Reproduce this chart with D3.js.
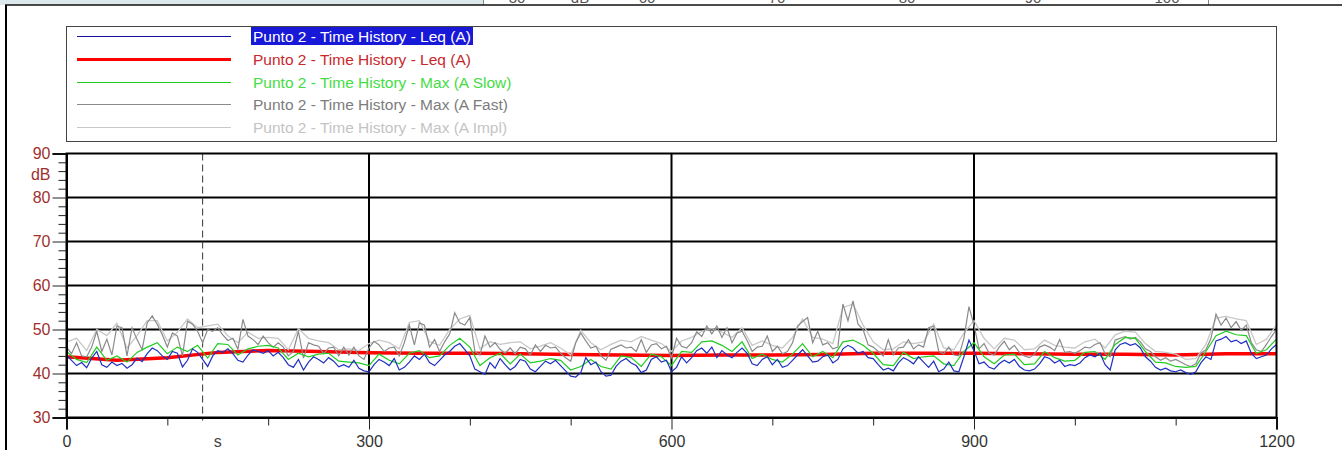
<!DOCTYPE html>
<html>
<head>
<meta charset="utf-8">
<script src="https://cdn.jsdelivr.net/npm/d3@7"></script>
<style>
  body { margin: 0; background: #fff; }
  svg { display: block; font-family: "Liberation Sans", Arial, sans-serif; }
</style>
</head>
<body>
<div id="graph"></div>
<script>
const svgw = 1342
const svgh = 450

// time axis, seconds
const xTicks = [0, 300, 600, 900, 1200]
const xMinor = [100, 200, 400, 500, 700, 800, 1000, 1100]
const yTicks = [30, 40, 50, 60, 70, 80, 90]
const cursorTime = 135

// Leq (A), one value every 5 s
const leqShort = [
  44.2, 43.0, 41.8, 42.5, 41.3, 43.5, 45.0, 42.0, 41.4, 42.6,
  41.8, 42.3, 41.2, 42.0, 43.5, 42.7, 44.5, 45.8, 45.2, 44.0,
  43.2, 45.0, 44.6, 41.5, 43.0, 45.6, 44.8, 43.2, 41.6, 44.0,
  45.2, 44.8, 45.6, 44.5, 43.0, 42.6, 44.2, 45.4, 45.0, 44.6,
  45.2, 44.0, 44.8, 43.6, 42.0, 41.4, 43.2, 40.8, 42.6, 43.8,
  43.2, 42.4, 43.6, 42.8, 41.5, 42.0, 41.4, 43.0, 41.2, 40.6,
  40.4, 42.0, 43.2, 42.6, 41.8, 43.4, 40.8, 41.4, 42.6, 44.0,
  43.2, 44.4, 42.5, 41.8, 43.0, 44.2, 45.0, 46.2, 46.8, 45.4,
  44.0, 41.0, 40.4, 39.8, 42.5, 41.2, 43.4, 42.0, 40.8, 41.6,
  43.2, 42.8, 41.0, 40.4, 41.6, 42.8, 42.2, 43.0, 41.8, 40.6,
  39.4, 39.2, 40.2, 43.6, 42.0, 42.6, 40.4, 39.4, 39.6, 41.6,
  42.8, 43.4, 42.4, 41.8, 40.2, 40.8, 43.2, 43.8, 42.6, 43.0,
  40.4, 41.4, 43.8, 42.4, 43.6, 45.2, 45.8, 44.6, 46.0, 43.6,
  45.2, 44.2, 43.6, 44.8, 45.8, 44.6, 42.2, 41.8, 43.2, 43.8,
  42.0, 43.2, 41.4, 41.8, 43.0, 44.2, 45.4, 44.0, 42.6, 42.8,
  43.8, 44.2, 42.4, 43.2, 45.6, 46.4, 45.8, 44.6, 45.0, 43.6,
  43.4, 42.0, 40.8, 41.2, 40.6, 42.4, 43.6, 43.0, 42.2, 43.8,
  42.6, 41.4, 42.8, 40.4, 41.0, 42.6, 40.6, 40.4, 43.8, 47.6,
  45.2, 42.2, 42.6, 41.4, 41.0, 42.2, 43.0, 42.4, 43.2, 41.6,
  40.8, 40.6, 41.0, 42.2, 43.8, 43.4, 42.4, 43.0, 41.6, 42.0,
  41.8, 42.4, 43.6, 44.2, 43.8, 44.6, 42.0, 40.8, 45.4, 46.6,
  47.0, 46.4, 46.8, 45.8, 43.8, 42.8, 41.4, 40.8, 41.2, 40.6,
  40.4, 40.8, 40.2, 39.8, 40.4, 42.4, 43.8, 43.2, 47.4, 47.8,
  48.4, 47.2, 47.6, 46.8, 47.4, 44.6, 43.4, 43.8, 44.2, 45.6,
  46.6
]

// Max (A Fast), one value every 5 s
const maxFast = [
  46.0, 44.5, 47.0, 44.0, 43.8, 46.0, 49.6, 45.0, 47.8, 44.2,
  50.8, 50.4, 44.0, 50.4, 47.7, 45.4, 51.5, 53.1, 51.2, 48.8,
  46.0, 49.2, 48.5, 44.0, 51.9, 51.2, 49.6, 47.0, 50.0, 49.6,
  50.4, 48.8, 47.5, 48.0, 45.5, 52.3, 48.5, 47.7, 46.6, 48.5,
  47.0, 46.0, 47.0, 46.0, 44.0, 45.0, 49.6, 43.5, 47.0, 46.5,
  46.2, 44.5, 45.8, 46.0, 44.0, 46.0, 44.2, 46.0, 44.0, 43.2,
  45.8, 47.3, 46.5, 45.0, 45.8, 46.0, 44.0, 47.0, 51.0, 46.5,
  51.5, 51.0, 46.0, 47.7, 45.0, 47.2, 49.0, 53.8, 51.5, 51.0,
  52.7, 45.0, 44.2, 48.5, 46.0, 47.0, 45.5, 44.6, 45.8, 44.5,
  46.0, 45.6, 44.2, 46.5, 45.0, 46.4, 45.8, 46.0, 44.6, 43.6,
  42.8, 47.0, 49.2, 47.4, 45.8, 46.2, 44.0, 43.0, 45.5, 46.0,
  46.5, 45.8, 46.0, 45.0, 47.7, 44.8, 46.5, 46.8, 45.6, 46.2,
  43.6, 48.0, 46.2, 45.8, 47.0, 49.5, 48.4, 50.8, 49.0, 50.8,
  48.2, 50.4, 47.0, 49.2, 49.6, 47.5, 45.0, 46.0, 46.2, 48.5,
  45.0, 46.2, 44.5, 45.0, 47.0, 50.8, 51.8, 52.7, 47.0, 49.6,
  46.5, 47.0, 45.6, 46.0, 55.8, 52.0, 56.5, 51.2, 50.0, 46.5,
  46.0, 45.0, 44.0, 47.7, 44.2, 45.8, 46.0, 47.7, 45.6, 46.5,
  46.0, 50.4, 50.8, 45.0, 44.5, 46.0, 44.2, 44.0, 48.0, 55.2,
  51.0, 45.6, 46.8, 44.6, 44.2, 46.0, 47.3, 45.4, 46.4, 44.8,
  44.0, 43.6, 44.4, 46.0, 46.5, 46.0, 45.2, 47.7, 44.8, 45.0,
  44.6, 45.2, 46.0, 45.8, 46.6, 47.0, 44.5, 43.8, 47.6, 48.0,
  48.4, 47.8, 48.2, 47.2, 45.6, 45.0, 43.8, 43.0, 43.6, 42.8,
  43.2, 42.6, 42.0, 41.6, 42.2, 44.6, 45.4, 48.0, 53.5, 51.0,
  52.6, 50.4, 51.8, 49.8, 51.0, 47.0, 45.4, 45.0, 46.6, 48.4,
  50.0
]

// Max (A Slow), one value every 10 s
const maxSlow = [
  45.0, 43.2, 42.5, 46.0, 43.0, 44.0, 42.6, 44.8, 46.0, 47.0,
  44.5, 46.0, 45.0, 46.4, 43.5, 46.8, 46.6, 44.2, 45.6, 46.2,
  46.4, 45.8, 43.2, 44.6, 43.8, 44.4, 44.6, 42.8, 42.6, 42.4,
  41.8, 44.4, 43.0, 42.2, 44.6, 45.2, 43.6, 44.0, 46.4, 48.0,
  46.0, 41.8, 43.6, 44.6, 42.2, 44.4, 42.4, 42.8, 43.4, 43.0,
  40.8, 41.6, 43.2, 41.6, 41.0, 44.0, 43.6, 41.6, 44.4, 43.8,
  41.8, 45.0, 44.8, 47.2, 47.4, 46.4, 45.0, 47.2, 43.4, 44.4,
  43.2, 42.6, 44.4, 46.8, 43.8, 45.0, 43.6, 47.2, 47.6, 46.4,
  44.6, 42.0, 41.8, 44.8, 43.4, 43.8, 44.0, 42.2, 41.8, 45.0,
  47.0, 43.8, 42.2, 44.2, 44.4, 42.0, 42.2, 45.0, 43.6, 42.8,
  43.0, 44.8, 45.0, 43.2, 46.6, 48.2, 48.0, 45.0, 42.6, 42.4,
  41.6, 41.4, 41.6, 45.0, 48.6, 49.6, 48.8, 48.6, 44.6, 45.4,
  47.8
]

// Max (A Impl), one value every 10 s
const maxImpl = [
  47.2, 48.0, 45.2, 50.0, 48.6, 51.4, 45.8, 48.6, 52.0, 52.0,
  47.4, 49.4, 52.4, 50.4, 50.8, 51.2, 48.6, 47.0, 49.4, 48.0,
  48.2, 48.0, 45.4, 50.2, 48.0, 47.4, 47.0, 45.4, 45.6, 45.2,
  46.8, 47.6, 47.0, 45.6, 51.6, 52.0, 47.2, 46.4, 50.0, 52.4,
  53.2, 45.6, 47.2, 46.6, 47.0, 47.2, 45.6, 46.2, 47.0, 45.8,
  44.2, 49.8, 47.0, 45.4, 46.6, 47.6, 47.2, 48.4, 47.6, 46.8,
  45.0, 47.4, 48.2, 49.6, 50.2, 49.4, 48.2, 50.4, 46.4, 47.4,
  46.4, 45.8, 48.2, 52.4, 48.2, 47.8, 46.8, 55.0, 55.8, 51.0,
  47.2, 45.4, 45.6, 47.2, 46.8, 47.2, 51.2, 45.8, 45.4, 49.2,
  52.0, 48.0, 45.6, 48.0, 47.6, 45.4, 45.6, 47.6, 46.4, 46.0,
  45.8, 47.2, 47.8, 45.8, 48.8, 49.6, 49.4, 46.8, 45.0, 44.8,
  44.4, 43.2, 43.4, 46.6, 52.6, 53.0, 52.4, 52.0, 46.6, 47.8,
  51.0
]

// running Leq (A), one value every 50 s
const leqRunning = [
  43.8, 43.0, 43.6, 44.8, 45.2, 45.0, 44.7, 44.6, 44.6, 44.5,
  44.3, 44.2, 44.1, 44.2, 44.2, 44.3, 44.6, 44.6, 44.6, 44.5,
  44.4, 44.4, 44.2, 44.5, 44.5
]

const legendLabels = [
  'Punto 2 - Time History - Leq (A)',
  'Punto 2 - Time History - Leq (A)',
  'Punto 2 - Time History - Max (A Slow)',
  'Punto 2 - Time History - Max (A Fast)',
  'Punto 2 - Time History - Max (A Impl)'
]

const topStripLabels = ['30', 'dB', '60', '70', '80', '90', '100']
const topStripPos = [517, 580, 647, 777, 907, 1033, 1167]

const svg = d3.select('#graph')
    .append('svg')
    .attr('width', svgw)
    .attr('height', svgh)

const plot = {left: 66.5, right: 1276.5, top: 153.5, bottom: 417.5}

const x = d3.scaleLinear().domain([0, 1200]).range([plot.left, plot.right])
const y = d3.scaleLinear().domain([30, 90]).range([plot.bottom, plot.top])

// cut-off strip of the table above the chart
svg.append('rect').attr('x', 0).attr('y', 0).attr('width', 483).attr('height', 5)
    .attr('fill', '#dde8ec')
svg.selectAll('.strip')
    .data(topStripLabels)
    .enter()
    .append('text')
    .attr('x', (d, i) => topStripPos[i])
    .attr('y', 3)
    .attr('text-anchor', 'middle')
    .attr('font-size', 15)
    .attr('fill', '#555')
    .text(d => d)
svg.append('line').attr('x1', 483.5).attr('x2', 483.5).attr('y1', 0).attr('y2', 5).attr('stroke', '#888')
svg.append('line').attr('x1', 1208.5).attr('x2', 1208.5).attr('y1', 0).attr('y2', 5).attr('stroke', '#888')
svg.append('line').attr('x1', 5).attr('x2', svgw).attr('y1', 5).attr('y2', 5)
    .attr('stroke', '#111').attr('stroke-width', 1.5)
svg.append('line').attr('x1', 6).attr('x2', 6).attr('y1', 5).attr('y2', svgh)
    .attr('stroke', '#000').attr('stroke-width', 2)

// legend
const series = [
  {color: '#10109a', width: 1, text: '#ffffff'},
  {color: '#ff0000', width: 3, text: '#c8282d'},
  {color: '#22cc22', width: 1, text: '#44dd44'},
  {color: '#8a8a8a', width: 1, text: '#7c7c7c'},
  {color: '#c8c8c8', width: 1, text: '#c4c4c4'}
]
svg.append('rect')
    .attr('x', 66.5).attr('y', 26.5).attr('width', 1210).attr('height', 115)
    .attr('fill', '#fff').attr('stroke', '#444')

const rowY = d3.scalePoint().domain(d3.range(5)).range([36, 127])
const legend = svg.selectAll('.legend')
    .data(legendLabels)
    .enter()
    .append('g')
    .attr('class', 'legend')
    .attr('transform', (d, i) => `translate(0,${Math.round(rowY(i)) + 0.5})`)
legend.append('line')
    .attr('class', 'legend-line')
    .attr('x1', 77).attr('x2', 231).attr('y1', 0).attr('y2', 0)
    .style('stroke', (d, i) => series[i].color)
    .style('stroke-width', (d, i) => series[i].width)
legend.filter((d, i) => i === 0)
    .append('rect')
    .attr('x', 251).attr('y', -9.5).attr('width', 222).attr('height', 18)
    .attr('fill', '#1818d8')
legend.append('text')
    .attr('x', 253).attr('y', 5)
    .attr('font-size', 15.5)
    .attr('fill', (d, i) => series[i].text)
    .text(d => d)

// grid and frame
const grid = svg.append('g')
grid.selectAll('.hg')
    .data(yTicks.slice(1, -1))
    .enter()
    .append('line')
    .attr('x1', plot.left).attr('x2', plot.right)
    .attr('y1', d => y(d)).attr('y2', d => y(d))
    .attr('stroke', '#000').attr('stroke-width', 2)
grid.selectAll('.vg')
    .data(xTicks.slice(1, -1))
    .enter()
    .append('line')
    .attr('x1', d => x(d)).attr('x2', d => x(d))
    .attr('y1', plot.top).attr('y2', plot.bottom)
    .attr('stroke', '#000').attr('stroke-width', 2)
grid.append('line')
    .attr('x1', x(cursorTime)).attr('x2', x(cursorTime))
    .attr('y1', plot.top).attr('y2', plot.bottom + 3)
    .attr('stroke', '#333').attr('stroke-dasharray', '7,4')

// curves
const line5 = d3.line().x((d, i) => x(i * 5)).y(d => y(d))
const line10 = d3.line().x((d, i) => x(i * 10)).y(d => y(d))
const line50 = d3.line().x((d, i) => x(i * 50)).y(d => y(d))

const curves = svg.append('g')
curves.append('path').attr('d', line50(leqRunning))
    .attr('fill', 'none').attr('stroke', series[1].color).attr('stroke-width', 3.5)
curves.append('path').attr('d', line10(maxImpl))
    .attr('fill', 'none').attr('stroke', series[4].color).attr('stroke-width', 1.3)
curves.append('path').attr('d', line5(maxFast))
    .attr('fill', 'none').attr('stroke', series[3].color).attr('stroke-width', 1.2)
curves.append('path').attr('d', line10(maxSlow))
    .attr('fill', 'none').attr('stroke', series[2].color).attr('stroke-width', 1.2)
curves.append('path').attr('d', line5(leqShort))
    .attr('fill', 'none').attr('stroke', '#2030c0').attr('stroke-width', 1.2)

svg.append('rect')
    .attr('x', plot.left).attr('y', plot.top)
    .attr('width', plot.right - plot.left).attr('height', plot.bottom - plot.top)
    .attr('fill', 'none').attr('stroke', '#000').attr('stroke-width', 2)

// axes
const yAxis = d3.axisLeft(y).tickValues(yTicks).tickSize(14).tickPadding(2)
const yMinorAxis = d3.axisLeft(y)
    .tickValues(d3.range(30, 91, 2).filter(v => v % 10 !== 0))
    .tickSize(8).tickFormat('')
const xAxis = d3.axisBottom(x).tickValues(xTicks).tickSize(12).tickPadding(6)
    .tickFormat(d3.format('d'))
const xMinorAxis = d3.axisBottom(x).tickValues(xMinor).tickSize(8).tickFormat('')

svg.append('g').attr('class', 'axis').attr('transform', `translate(${plot.left},0)`).call(yMinorAxis)
const ya = svg.append('g').attr('class', 'axis').attr('id', 'y-axis')
    .attr('transform', `translate(${plot.left},0)`)
    .call(yAxis)
svg.append('g').attr('class', 'axis').attr('transform', `translate(0,${plot.bottom})`).call(xMinorAxis)
const xa = svg.append('g').attr('class', 'axis').attr('id', 'x-axis')
    .attr('transform', `translate(0,${plot.bottom})`)
    .call(xAxis)

svg.selectAll('.axis .domain').attr('stroke', '#000').attr('stroke-width', 2)
svg.selectAll('.axis .tick line').attr('stroke', '#222')
ya.selectAll('text').attr('font-size', 16).attr('fill', '#a0302e')
    .attr('font-family', '"Liberation Sans", Arial, sans-serif')
xa.selectAll('text').attr('font-size', 16).attr('fill', '#333')
    .attr('font-family', '"Liberation Sans", Arial, sans-serif')

svg.append('text')
    .attr('x', plot.left - 16).attr('y', y(85.2)).attr('dy', '0.32em')
    .attr('text-anchor', 'end').attr('font-size', 16).attr('fill', '#a0302e')
    .text('dB')
svg.append('text')
    .attr('x', x(150)).attr('y', plot.bottom + 18).attr('dy', '0.71em')
    .attr('text-anchor', 'middle').attr('font-size', 16).attr('fill', '#444')
    .text('s')
</script>
</body>
</html>
